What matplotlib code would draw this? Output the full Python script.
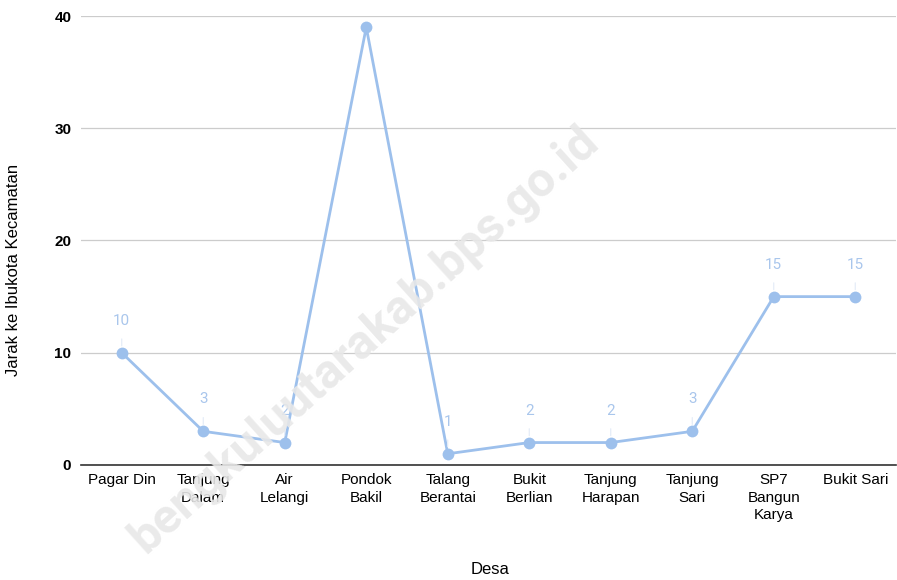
import matplotlib.pyplot as plt

# data
desa = ["Pagar Din", "Tanjung\nDalam", "Air\nLelangi", "Pondok\nBakil", "Talang\nBerantai",
        "Bukit\nBerlian", "Tanjung\nHarapan", "Tanjung\nSari", "SP7\nBangun\nKarya", "Bukit Sari"]
jarak = [10, 3, 2, 39, 1, 2, 2, 3, 15, 15]
y_ticks = [0, 10, 20, 30, 40]

line_color = "#9dc0ec"
label_color = "#a9c6ec"

plt.rcParams["font.family"] = ["Liberation Sans", "DejaVu Sans"]

fig = plt.figure(figsize=(8.97, 5.8), dpi=100)
ax = fig.add_axes([81 / 897, 115 / 580, 815 / 897, 449 / 580])

x = list(range(len(desa)))
ax.plot(x, jarak, color=line_color, linewidth=2, marker="o", markersize=8.5,
        markeredgewidth=0, zorder=3)

# value labels with a faint leader line (the 39 label falls outside the plot)
for xi, v in zip(x, jarak):
    if v > 35:
        continue
    ax.annotate(str(v), (xi, v), xytext=(0, 23), textcoords="offset points",
                ha="center", va="center", fontsize=11, color=label_color,
                family=["Roboto", "DejaVu Sans"],
                arrowprops=dict(arrowstyle="-", color="#e2ebf7", lw=0.8,
                                shrinkA=6, shrinkB=5))

ax.set_xlim(-0.5, len(desa) - 0.5)
ax.set_ylim(0, 40)
ax.set_yticks(y_ticks)
ax.set_yticklabels([str(t) for t in y_ticks], fontweight="bold", fontsize=11)
ax.set_xticks(x)
ax.set_xticklabels(desa, fontsize=11, linespacing=1.3)
ax.tick_params(length=0)
ax.tick_params(axis="y", pad=7)
ax.tick_params(axis="x", pad=6)

ax.grid(axis="y", color="#cccccc", linewidth=0.9)
ax.set_axisbelow(True)
for s in ["top", "right", "left"]:
    ax.spines[s].set_visible(False)
ax.spines["bottom"].set_color("#333333")
ax.spines["bottom"].set_linewidth(1.2)
ax.spines["bottom"].set_zorder(2)

fig.text(14 / 897, 1 - 270 / 580, "Jarak ke Ibukota Kecamatan", rotation=90,
         ha="center", va="center", fontsize=12)
fig.text(490 / 897, 1 - 570 / 580, "Desa", ha="center", va="center", fontsize=12)

# watermark
fig.text(365 / 897, 1 - 340 / 580, "bengkuluutarakab.bps.go.id", rotation=42,
         ha="center", va="center", fontsize=35, fontweight="bold",
         family=["Roboto", "DejaVu Sans"],
         color="#e8e8e8", alpha=0.9, zorder=10, rotation_mode="anchor")

fig.savefig("out.png", dpi=100)
